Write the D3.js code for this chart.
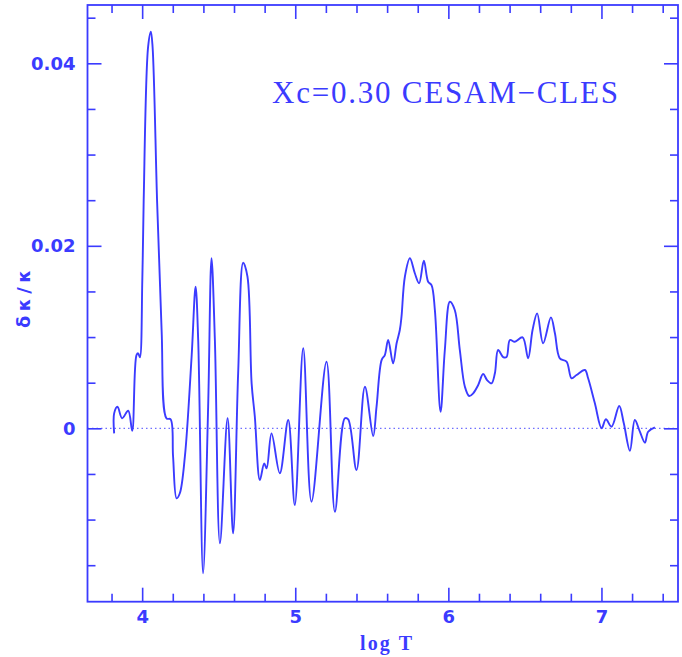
<!DOCTYPE html>
<html>
<head>
<meta charset="utf-8">
<script src="https://cdn.jsdelivr.net/npm/d3@7"></script>
<style>
  html, body { margin: 0; padding: 0; background: #fff; }
  svg { display: block; }
</style>
</head>
<body>
<svg id="chart" width="682" height="657"></svg>
<script>
// Opacity difference δκ/κ against log T
const logT = [
  3.817, 3.817, 3.839, 3.869, 3.909, 3.935, 3.963, 3.974, 3.985, 4.001,
  4.010, 4.039, 4.057, 4.068, 4.098, 4.127, 4.159, 4.186, 4.202, 4.225,
  4.246, 4.279, 4.323, 4.349, 4.366, 4.398, 4.431, 4.453, 4.475, 4.508,
  4.558, 4.594, 4.627, 4.660, 4.688, 4.715, 4.736, 4.769, 4.797, 4.813,
  4.845, 4.899, 4.954, 4.997, 5.052, 5.106, 5.204, 5.259, 5.324, 5.346,
  5.400, 5.455, 5.509, 5.531, 5.564, 5.585, 5.607, 5.639, 5.662, 5.683,
  5.694, 5.716, 5.749, 5.781, 5.809, 5.840, 5.868, 5.890, 5.912, 5.949,
  5.977, 6.010, 6.042, 6.075, 6.108, 6.136, 6.162, 6.195, 6.227, 6.253,
  6.282, 6.304, 6.325, 6.358, 6.380, 6.402, 6.434, 6.485, 6.521, 6.550,
  6.580, 6.619, 6.670, 6.696, 6.728, 6.772, 6.805, 6.837, 6.892, 6.913,
  6.957, 7.001, 7.029, 7.066, 7.116, 7.146, 7.186, 7.218, 7.251, 7.284,
  7.305, 7.349
];
const dKappa = [
  -0.00055, 0.00164, 0.00237, 0.00110, 0.00193, -0.00026, 0.00803, 0.00822, 0.00778, 0.01625,
  0.02502, 0.04182, 0.04346, 0.04182, 0.02466, 0.01077, 0.00110, 0.00099, -0.00311, -0.00767,
  -0.00712, -0.00311, 0.00785, 0.01552, 0.00968, -0.01589, 0.00237, 0.01863, 0.00968, -0.01260,
  0.00110, -0.01151, 0.00603, 0.01815, 0.01661, 0.00493, 0.00127, -0.00567, -0.00384, -0.00438,
  -0.00055, -0.00493, 0.00091, -0.00841, 0.00877, -0.00804, 0.00730, -0.00914, 0.00110, 0.00099,
  -0.00457, 0.00456, -0.00084, 0.00237, 0.00748, 0.00803, 0.00968, 0.00712, 0.00932, 0.01077,
  0.01223, 0.01661, 0.01863, 0.01699, 0.01589, 0.01837, 0.01607, 0.01570, 0.01296, 0.00182,
  0.00858, 0.01387, 0.01296, 0.00858, 0.00456, 0.00354, 0.00384, 0.00475, 0.00595, 0.00529,
  0.00493, 0.00603, 0.00858, 0.00781, 0.00781, 0.00968, 0.00949, 0.00997, 0.00767, 0.01077,
  0.01260, 0.00932, 0.01216, 0.01041, 0.00767, 0.00730, 0.00548, 0.00584, 0.00639, 0.00548,
  0.00274, 0.00000, 0.00099, 0.00018, 0.00244, 0.00055, -0.00245, 0.00091, -0.00037, -0.00158,
  -0.00037, 0.00011
];

const xMajorTicks = [4, 5, 6, 7];
const xMinorTicks = [3.8, 4.2, 4.4, 4.6, 4.8, 5.2, 5.4, 5.6, 5.8, 6.2, 6.4, 6.6, 6.8, 7.2, 7.4];
const yMajorTicks = [0, 0.02, 0.04];
const yMinorTicks = [-0.015, -0.01, -0.005, 0.005, 0.01, 0.015, 0.025, 0.03, 0.035, 0.045];
const yTickLabels = ["0", "0.02", "0.04"];

const titleText = "Xc=0.30 CESAM\u2212CLES";
const xLabel = "log T";
const yLabel = "\u03b4\u03ba/\u03ba";

const blue = "#3b3bff";
const svg = d3.select("#chart");

const plotLeft = 87.5, plotRight = 678, plotTop = 5, plotBottom = 601.7;
const x = d3.scaleLinear().domain([3.643, 7.5]).range([plotLeft, plotRight]);
const y = d3.scaleLinear().domain([-0.019, 0.04639]).range([plotBottom, plotTop]);

// zero reference line
svg.append("line")
  .attr("x1", plotLeft).attr("x2", plotRight)
  .attr("y1", y(0)).attr("y2", y(0))
  .attr("stroke", "#6f6fff").attr("stroke-width", 1.3)
  .attr("stroke-dasharray", "1.5,3");

// the curve
const pts = logT.map((t, i) => [t, dKappa[i]]);
const line = d3.line()
  .x(d => x(d[0])).y(d => y(d[1]))
  .curve(d3.curveCatmullRom.alpha(0.5));
svg.append("path")
  .datum(pts)
  .attr("d", line)
  .attr("fill", "none")
  .attr("stroke", blue)
  .attr("stroke-width", 1.9)
  .attr("stroke-linejoin", "round");

// axes: ticks drawn inward on all four sides
function styleAxis(g) {
  g.select(".domain").remove();
  g.selectAll(".tick line").attr("stroke", blue).attr("stroke-width", 1.6);
  g.selectAll("text")
    .attr("fill", blue)
    .attr("font-family", "'DejaVu Sans', sans-serif")
    .attr("font-weight", "bold")
    .attr("font-size", 18);
}

svg.append("g").attr("transform", `translate(0,${plotBottom})`)
  .call(d3.axisBottom(x).tickValues(xMajorTicks).tickSizeInner(-14).tickSizeOuter(0)
    .tickPadding(9).tickFormat(d3.format("d")))
  .call(styleAxis);
svg.append("g").attr("transform", `translate(0,${plotBottom})`)
  .call(d3.axisBottom(x).tickValues(xMinorTicks).tickSizeInner(-8).tickSizeOuter(0).tickFormat(""))
  .call(styleAxis);
svg.append("g").attr("transform", `translate(0,${plotTop})`)
  .call(d3.axisTop(x).tickValues(xMajorTicks).tickSizeInner(-14).tickSizeOuter(0).tickFormat(""))
  .call(styleAxis);
svg.append("g").attr("transform", `translate(0,${plotTop})`)
  .call(d3.axisTop(x).tickValues(xMinorTicks).tickSizeInner(-8).tickSizeOuter(0).tickFormat(""))
  .call(styleAxis);

svg.append("g").attr("transform", `translate(${plotLeft},0)`)
  .call(d3.axisLeft(y).tickValues(yMajorTicks).tickSizeInner(-14).tickSizeOuter(0)
    .tickPadding(12).tickFormat((d, i) => yTickLabels[i]))
  .call(styleAxis);
svg.append("g").attr("transform", `translate(${plotLeft},0)`)
  .call(d3.axisLeft(y).tickValues(yMinorTicks).tickSizeInner(-8).tickSizeOuter(0).tickFormat(""))
  .call(styleAxis);
svg.append("g").attr("transform", `translate(${plotRight},0)`)
  .call(d3.axisRight(y).tickValues(yMajorTicks).tickSizeInner(-14).tickSizeOuter(0).tickFormat(""))
  .call(styleAxis);
svg.append("g").attr("transform", `translate(${plotRight},0)`)
  .call(d3.axisRight(y).tickValues(yMinorTicks).tickSizeInner(-8).tickSizeOuter(0).tickFormat(""))
  .call(styleAxis);

// frame
svg.append("rect")
  .attr("x", plotLeft).attr("y", plotTop)
  .attr("width", plotRight - plotLeft).attr("height", plotBottom - plotTop)
  .attr("fill", "none").attr("stroke", blue).attr("stroke-width", 1.8);

// title inside the plot
svg.append("text")
  .attr("x", 272).attr("y", 102.5)
  .attr("fill", blue)
  .attr("font-family", "'Liberation Serif', serif")
  .attr("font-size", 31)
  .attr("textLength", 346).attr("lengthAdjust", "spacing")
  .text(titleText);

// axis titles
svg.append("text")
  .attr("x", 360).attr("y", 650)
  .attr("fill", blue)
  .attr("font-family", "'Liberation Serif', serif")
  .attr("font-weight", "bold")
  .attr("font-size", 20)
  .attr("textLength", 52).attr("lengthAdjust", "spacing")
  .text(xLabel);

svg.append("text")
  .attr("transform", "translate(30,299) rotate(-90)")
  .attr("text-anchor", "middle")
  .attr("fill", blue)
  .attr("font-family", "'DejaVu Sans', sans-serif")
  .attr("font-weight", "bold")
  .attr("font-size", 18)
  .attr("textLength", 58).attr("lengthAdjust", "spacing")
  .text(yLabel);
</script>
</body>
</html>
